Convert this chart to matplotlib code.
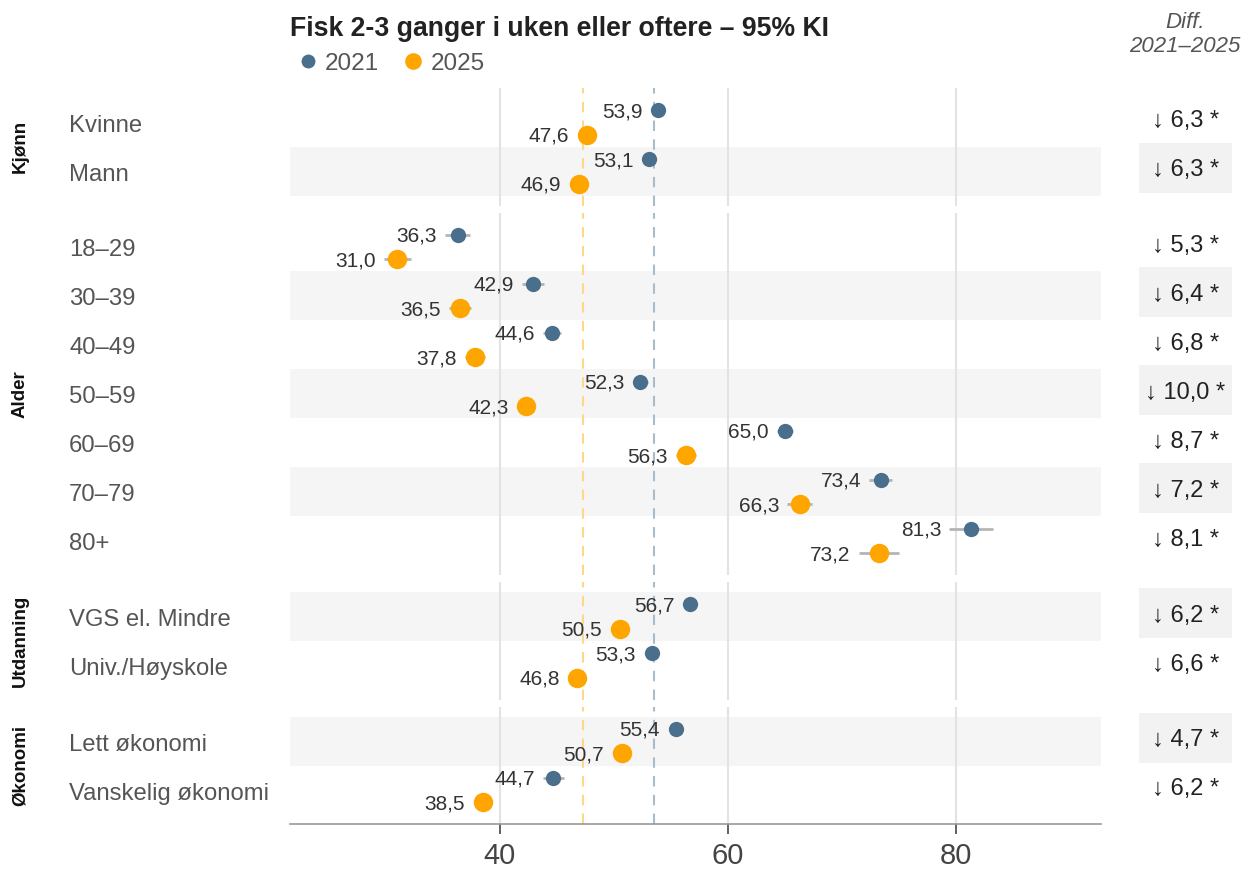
import numpy as np
import matplotlib
matplotlib.use('Agg')
from matplotlib import pyplot as plt
from matplotlib.lines import Line2D

plt.rcParams['font.family'] = ['Liberation Sans', 'DejaVu Sans']

# data
groups = ['Kjønn', 'Alder', 'Utdanning', 'Økonomi']
rows = [['Kvinne', 'Mann'],
        ['18–29', '30–39', '40–49', '50–59', '60–69', '70–79', '80+'],
        ['VGS el. Mindre', 'Univ./Høyskole'],
        ['Lett økonomi', 'Vanskelig økonomi']]
v2021 = [[53.9, 53.1],
         [36.3, 42.9, 44.6, 52.3, 65.0, 73.4, 81.3],
         [56.7, 53.3],
         [55.4, 44.7]]
v2025 = [[47.6, 46.9],
         [31.0, 36.5, 37.8, 42.3, 56.3, 66.3, 73.2],
         [50.5, 46.8],
         [50.7, 38.5]]
ci2021 = [[0.4, 0.4],
          [1.1, 1.0, 0.8, 0.65, 0.7, 1.0, 1.9],
          [0.5, 0.4],
          [0.4, 0.9]]
ci2025 = [[0.4, 0.4],
          [1.2, 1.0, 0.9, 0.7, 0.9, 1.1, 1.75],
          [0.5, 0.4],
          [0.4, 0.8]]
diff = [['6,3', '6,3'],
        ['5,3', '6,4', '6,8', '10,0', '8,7', '7,2', '8,1'],
        ['6,2', '6,6'],
        ['4,7', '6,2']]
mean2021 = 53.5
mean2025 = 47.25

blue = '#4a6f8c'
orange = '#ffa500'
W, H = 1241, 871
xmin, xmax = 21.6, 92.7
left, right, top = 290, 1101, 88
row_h = 49
pad = 0.2
gap = 7
px_per_unit = (right - left) / (xmax - xmin)
tshift = 3.5 / row_h  # nudge text down to visual centre

fig = plt.figure(figsize=(W / 100, H / 100), dpi=100)

y = top
k = 0
for g, (gname, labels) in enumerate(zip(groups, rows)):
    n = len(labels)
    h = (n + 2 * pad) * row_h
    rect_y = 1 - (y + h) / H
    ax = fig.add_axes([left / W, rect_y, (right - left) / W, h / H])
    dx = fig.add_axes([1139 / W, rect_y, 93 / W, h / H])
    ax.set_xlim(xmin, xmax)
    ax.set_ylim(n - 0.5 + pad, -0.5 - pad)
    dx.set_xlim(0, 1)
    dx.set_ylim(n - 0.5 + pad, -0.5 - pad)
    dx.axis('off')

    for i in range(n):
        if (k + i) % 2 == 1:
            ax.axhspan(i - 0.5, i + 0.5, color='#f5f5f5', lw=0, zorder=0)
            dx.axhspan(i - 0.58, i + 0.44, color='#f2f2f2', lw=0, zorder=0)
        dx.text(0.5, i - 0.02, '↓ ' + diff[g][i] + ' *', ha='center', va='center',
                fontsize=17, color='#222')
        ax.text(-(left - 69) / (right - left), i + tshift, labels[i],
                transform=ax.get_yaxis_transform(),
                ha='left', va='center', fontsize=17.2, color='#555')

    for xv in [40, 60, 80]:
        ax.axvline(xv, color='#e3e3e3', lw=1.5, zorder=1)
    ax.axvline(mean2025, color='#ffd68a', lw=1.5, ls=(0, (5, 4)), zorder=1)
    ax.axvline(mean2021, color='#a8bccc', lw=1.5, ls=(0, (5, 4)), zorder=1)

    for vals, cis, off, col, ms in [(v2021[g], ci2021[g], -0.25, blue, 11),
                                    (v2025[g], ci2025[g], 0.25, orange, 14)]:
        yy = np.arange(n) + off
        ax.hlines(yy, np.array(vals) - np.array(cis), np.array(vals) + np.array(cis),
                  color='#b5b5b5', lw=2, zorder=2)
        ax.plot(vals, yy, 'o', color=col, ms=ms, mew=0, zorder=3)
        for v, c, yv in zip(vals, cis, yy):
            shift = max(c * px_per_unit, ms / 2 * 100 / 72) + 8
            ax.annotate(f'{v:.1f}'.replace('.', ','), (v, yv + 0.03),
                        xytext=(-shift * 0.72, 0), textcoords='offset points',
                        ha='right', va='center', fontsize=15, color='#333')

    for s in ax.spines.values():
        s.set_visible(False)
    ax.set_yticks([])
    if g == len(groups) - 1:
        ax.spines['bottom'].set_visible(True)
        ax.spines['bottom'].set_color('#999999')
        ax.spines['bottom'].set_linewidth(1.2)
        ax.set_xticks([40, 60, 80])
        ax.tick_params(axis='x', length=7, width=1.3, color='#555',
                       labelsize=21, labelcolor='#444', pad=6)
    else:
        ax.set_xticks([])

    fig.text(20 / W, 1 - (y + h / 2) / H, gname, rotation=90, ha='center', va='center',
             fontsize=13.5, fontweight='bold', color='#111')

    y += h + gap
    k += n

fig.text(left / W, 1 - 29 / H, 'Fisk 2-3 ganger i uken eller oftere – 95% KI',
         ha='left', va='center', fontsize=19.2, fontweight='bold', color='#222')
fig.text(1185 / W, 1 - 23 / H, 'Diff.', ha='center', va='center',
         fontsize=16, style='italic', color='#555')
fig.text(1185 / W, 1 - 46 / H, '2021–2025', ha='center', va='center',
         fontsize=16, style='italic', color='#555')

handles = [Line2D([], [], marker='o', ls='', color=blue, ms=10, mew=0),
           Line2D([], [], marker='o', ls='', color=orange, ms=12, mew=0)]
leg = fig.legend(handles, ['2021', '2025'], loc='center left',
                 bbox_to_anchor=(296 / W, 1 - 64 / H), ncol=2, frameon=False,
                 fontsize=17.5, handletextpad=0.2, columnspacing=0.9,
                 handlelength=1.0, borderpad=0, borderaxespad=0)
for t in leg.get_texts():
    t.set_color('#555')

fig.savefig('out.png', dpi=100)
